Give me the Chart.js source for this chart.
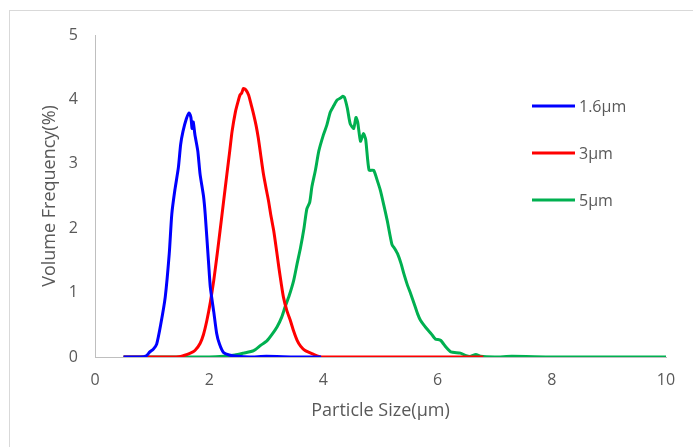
<!DOCTYPE html>
<html>
<head>
<meta charset="utf-8">
<script src="https://cdn.jsdelivr.net/npm/chart.js"></script>
<style>
  html, body { margin: 0; padding: 0; background: #fff; }
  #wrap { position: relative; width: 693px; height: 447px; overflow: hidden; }
  #frame { position: absolute; left: 9px; top: 10px; width: 700px; height: 450px;
           border-top: 1px solid #d9d9d9; border-left: 1px solid #d9d9d9; }
  canvas { position: absolute; left: 0; top: 0; }
</style>
</head>
<body>
<div id="wrap">
  <div id="frame"></div>
  <canvas id="c" width="693" height="447"></canvas>
</div>
<script>
// ---- data ----
const seriesLabels = ["1.6µm", "3µm", "5µm"];
const seriesColors = ["#0000FF", "#FF0000", "#00B050"];

const size16 = [0.5,0.8,0.9,0.96,1.02,1.08,1.15,1.23,1.3,1.345,1.4,1.46,1.5,1.54,1.6,1.65,1.68,1.7,1.72,1.75,1.8,1.84,1.9,1.93,1.99,2.02,2.08,2.13,2.18,2.25,2.35,2.5,2.7,3.0,3.5,3.96];
const freq16 = [0,0,0.02,0.08,0.12,0.2,0.5,0.93,1.6,2.22,2.6,2.94,3.3,3.5,3.7,3.79,3.72,3.55,3.65,3.45,3.2,2.84,2.5,2.22,1.45,1.08,0.7,0.37,0.2,0.07,0.03,0.01,0,0.01,0,0];

const size3 = [0.5,1.3,1.5,1.67,1.75,1.84,1.9,1.96,2.02,2.08,2.14,2.19,2.25,2.31,2.36,2.4,2.46,2.5,2.54,2.57,2.6,2.64,2.69,2.74,2.78,2.82,2.86,2.9,2.95,3.0,3.04,3.08,3.13,3.18,3.22,3.26,3.3,3.36,3.42,3.48,3.54,3.6,3.68,3.75,3.83,3.92,4.0,5.0,6.0,6.8];
const freq3 = [0,0,0.01,0.06,0.1,0.21,0.35,0.57,0.85,1.19,1.6,1.96,2.4,2.84,3.2,3.5,3.81,3.95,4.07,4.1,4.17,4.15,4.07,3.9,3.76,3.6,3.4,3.15,2.84,2.6,2.42,2.2,1.96,1.65,1.39,1.15,0.93,0.72,0.57,0.4,0.26,0.17,0.1,0.07,0.04,0.01,0,0,0,0];

const size5 = [0.5,2.0,2.25,2.45,2.6,2.78,2.9,3.01,3.1,3.19,3.27,3.33,3.4,3.48,3.54,3.6,3.66,3.71,3.76,3.8,3.86,3.92,4.0,4.06,4.12,4.18,4.24,4.3,4.34,4.37,4.42,4.47,4.53,4.57,4.6,4.65,4.7,4.74,4.8,4.88,4.94,5.0,5.06,5.12,5.2,5.25,5.3,5.36,5.41,5.47,5.53,5.6,5.65,5.7,5.8,5.88,5.96,6.05,6.15,6.23,6.4,6.5,6.58,6.67,6.75,7.0,7.3,8.0,9.0,10.0];
const freq5 = [0,0,0.01,0.03,0.06,0.1,0.18,0.25,0.35,0.47,0.62,0.78,0.95,1.19,1.45,1.7,2.0,2.3,2.4,2.65,2.9,3.2,3.45,3.6,3.8,3.9,3.99,4.02,4.05,4.03,3.86,3.62,3.55,3.72,3.65,3.35,3.47,3.38,2.9,2.9,2.75,2.58,2.35,2.11,1.75,1.68,1.6,1.45,1.29,1.12,0.98,0.8,0.67,0.57,0.45,0.37,0.28,0.26,0.15,0.08,0.06,0.02,0.01,0.04,0.01,0,0.01,0,0,0];

const xTicks = [0, 2, 4, 6, 8, 10];
const yTicks = [0, 1, 2, 3, 4, 5];
const xTitle = "Particle Size(µm)";
const yTitle = "Volume Frequency(%)";

// ---- build ----
const sizes = [size16, size3, size5];
const freqs = [freq16, freq3, freq5];
const datasets = seriesLabels.map((lab, i) => ({
  label: lab,
  data: sizes[i].map((x, k) => ({ x: x, y: freqs[i][k] })),
  borderColor: seriesColors[i],
  backgroundColor: seriesColors[i],
  borderWidth: 3,
  pointRadius: 0,
  showLine: true,
  tension: 0.2,
  fill: false
}));

const FONT = "'Open Sans', Lato, sans-serif";
const TXT = "#595959";

const legendPlugin = {
  id: 'insideLegend',
  afterDatasetsDraw(chart) {
    const ctx = chart.ctx;
    const rows = [106, 153, 200];
    ctx.save();
    chart.data.datasets.forEach((ds, i) => {
      const y = rows[i];
      ctx.strokeStyle = ds.borderColor;
      ctx.lineWidth = 3;
      ctx.beginPath();
      ctx.moveTo(532, y);
      ctx.lineTo(575, y);
      ctx.stroke();
      ctx.fillStyle = TXT;
      ctx.font = "16px " + FONT;
      ctx.textBaseline = "middle";
      ctx.textAlign = "left";
      ctx.fillText(ds.label, 579, y + 1);
    });
    ctx.restore();
  }
};

new Chart(document.getElementById('c'), {
  type: 'scatter',
  data: { datasets: datasets },
  options: {
    responsive: false,
    animation: false,
    events: [],
    layout: { padding: { left: 0, right: 27, top: 35, bottom: 0 } },
    plugins: { legend: { display: false }, tooltip: { enabled: false } },
    scales: {
      x: {
        type: 'linear', min: 0, max: 10,
        afterBuildTicks: (s) => { s.ticks = xTicks.map(v => ({ value: v })); },
        afterFit: (s) => { s.height = 90; },
        grid: { display: false, drawTicks: false },
        border: { display: true, color: '#bfbfbf', width: 1 },
        ticks: { color: TXT, font: { family: FONT, size: 16 }, padding: 14, maxRotation: 0 },
        title: { display: true, text: xTitle, color: TXT, font: { family: FONT, size: 18 }, padding: { top: 0, bottom: 25 } }
      },
      y: {
        type: 'linear', min: 0, max: 5,
        afterBuildTicks: (s) => { s.ticks = yTicks.map(v => ({ value: v })); },
        afterFit: (s) => { s.width = 95; },
        grid: { display: false, drawTicks: false },
        border: { display: true, color: '#bfbfbf', width: 1 },
        ticks: { color: TXT, font: { family: FONT, size: 16 }, padding: 17 },
        title: { display: true, text: yTitle, color: TXT, font: { family: FONT, size: 18 }, padding: { top: 39, bottom: 0 } }
      }
    }
  },
  plugins: [legendPlugin]
});
</script>
</body>
</html>
